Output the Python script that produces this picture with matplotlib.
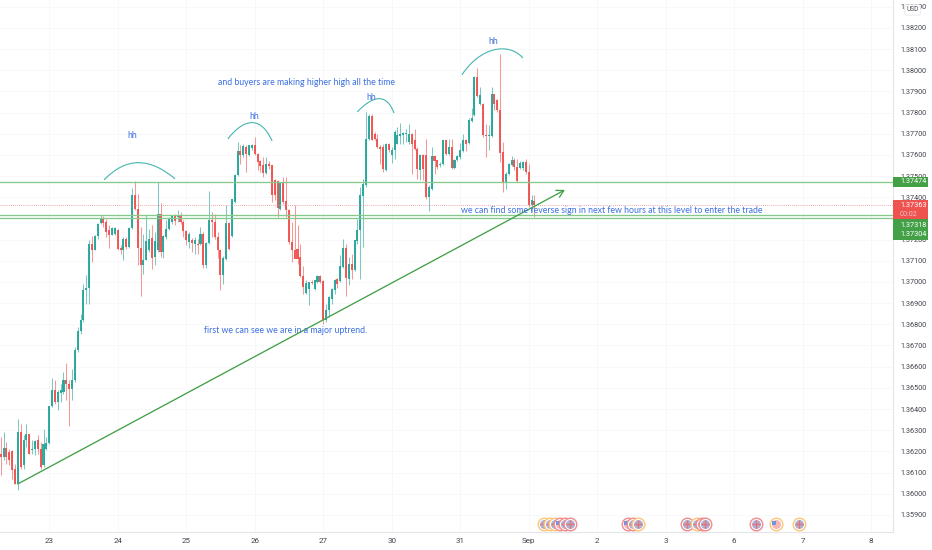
import matplotlib
matplotlib.use("Agg")
import matplotlib.pyplot as plt
from matplotlib.patches import Rectangle, PathPatch
from matplotlib.path import Path
from matplotlib.transforms import blended_transform_factory
import numpy as np

opens = [1.36189,1.36173,1.36216,1.36197,1.36200,1.36118,1.36047,1.36292,1.36134,1.36252,
1.36284,1.36208,1.36213,1.36252,1.36213,1.36134,1.36213,1.36240,1.36413,1.36488,
1.36433,1.36475,1.36480,1.36535,1.36520,1.36496,1.36535,1.36677,1.36767,1.36819,
1.36964,1.36972,1.37178,1.37153,1.37216,1.37279,1.37299,1.37283,1.37244,1.37224,
1.37225,1.37247,1.37162,1.37150,1.37205,1.37165,1.37257,1.37410,1.37347,1.37162,
1.37079,1.37105,1.37150,1.37208,1.37118,1.37150,1.37323,1.37142,1.37213,1.37252,
1.37283,1.37312,1.37307,1.37315,1.37283,1.37239,1.37189,1.37200,1.37178,1.37181,
1.37178,1.37228,1.37079,1.37184,1.37294,1.37283,1.37213,1.37150,1.37035,1.37110,
1.37279,1.37216,1.37378,1.37504,1.37617,1.37598,1.37638,1.37598,1.37635,1.37646,
1.37606,1.37570,1.37551,1.37515,1.37559,1.37551,1.37480,1.37477,1.37346,1.37468,
1.37383,1.37339,1.37189,1.37153,1.37157,1.37118,1.37027,1.36948,1.36968,1.37000,
1.36968,1.37000,1.37027,1.37005,1.36822,1.36866,1.36921,1.36964,1.37016,1.37005,
1.37071,1.37162,1.37016,1.37087,1.37055,1.37194,1.37244,1.37406,1.37457,1.37677,
1.37783,1.37701,1.37677,1.37638,1.37638,1.37531,1.37654,1.37598,1.37625,1.37654,
1.37688,1.37693,1.37701,1.37662,1.37701,1.37669,1.37630,1.37531,1.37598,1.37598,
1.37402,1.37441,1.37594,1.37575,1.37551,1.37559,1.37669,1.37603,1.37638,1.37540,
1.37575,1.37591,1.37619,1.37669,1.37657,1.37761,1.37787,1.37969,1.37839,1.37843,
1.37693,1.37688,1.37688,1.37887,1.37858,1.37811,1.37614,1.37468,1.37509,1.37551,
1.37578,1.37543,1.37540,1.37540,1.37567,1.37520,1.37362,1.37383]
highs = [1.36268,1.36292,1.36244,1.36213,1.36205,1.36142,1.36355,1.36331,1.36276,1.36331,
1.36284,1.36252,1.36252,1.36276,1.36244,1.36307,1.36268,1.36413,1.36548,1.36535,
1.36488,1.36520,1.36575,1.36617,1.36539,1.36591,1.36693,1.36788,1.36851,1.36992,
1.37032,1.37200,1.37216,1.37221,1.37279,1.37318,1.37310,1.37299,1.37268,1.37260,
1.37260,1.37252,1.37173,1.37213,1.37213,1.37260,1.37446,1.37476,1.37417,1.37260,
1.37228,1.37315,1.37252,1.37268,1.37236,1.37472,1.37375,1.37221,1.37291,1.37307,
1.37315,1.37323,1.37342,1.37331,1.37291,1.37244,1.37236,1.37208,1.37213,1.37205,
1.37260,1.37236,1.37189,1.37430,1.37331,1.37323,1.37236,1.37157,1.37121,1.37362,
1.37283,1.37394,1.37512,1.37661,1.37646,1.37650,1.37646,1.37649,1.37650,1.37683,
1.37609,1.37575,1.37590,1.37590,1.37570,1.37554,1.37488,1.37484,1.37472,1.37496,
1.37496,1.37346,1.37283,1.37362,1.37268,1.37181,1.37074,1.37008,1.37000,1.37008,
1.37011,1.37031,1.37031,1.37008,1.36897,1.36932,1.36973,1.37016,1.37019,1.37126,
1.37205,1.37181,1.37118,1.37134,1.37200,1.37299,1.37449,1.37488,1.37803,1.37795,
1.37792,1.37709,1.37701,1.37646,1.37654,1.37657,1.37657,1.37638,1.37717,1.37732,
1.37751,1.37709,1.37725,1.37748,1.37704,1.37725,1.37638,1.37606,1.37606,1.37677,
1.37457,1.37638,1.37598,1.37578,1.37567,1.37677,1.37672,1.37677,1.37677,1.37583,
1.37598,1.37657,1.37701,1.37677,1.37776,1.37824,1.37972,1.38013,1.37921,1.37846,
1.37745,1.37740,1.37921,1.37890,1.37866,1.38079,1.37661,1.37520,1.37562,1.37594,
1.37587,1.37583,1.37572,1.37572,1.37583,1.37559,1.37409,1.37409]
lows = [1.36087,1.36158,1.36142,1.36134,1.36071,1.36047,1.36019,1.36118,1.36118,1.36221,
1.36189,1.36189,1.36181,1.36189,1.36118,1.36126,1.36205,1.36236,1.36410,1.36425,
1.36397,1.36433,1.36472,1.36441,1.36318,1.36441,1.36528,1.36669,1.36756,1.36811,
1.36898,1.36898,1.37094,1.37150,1.37205,1.37276,1.37260,1.37213,1.37161,1.37220,
1.37220,1.37150,1.37131,1.37105,1.37157,1.37162,1.37252,1.37339,1.37079,1.36932,
1.37036,1.37102,1.37142,1.37060,1.37079,1.37142,1.37118,1.37115,1.37205,1.37244,
1.37276,1.37268,1.37283,1.37276,1.37213,1.37173,1.37162,1.37142,1.37131,1.37134,
1.37173,1.37068,1.37066,1.37181,1.37213,1.37205,1.37115,1.36964,1.36992,1.37105,
1.37153,1.37213,1.37375,1.37499,1.37559,1.37591,1.37520,1.37594,1.37622,1.37598,
1.37528,1.37520,1.37496,1.37512,1.37535,1.37378,1.37386,1.37307,1.37339,1.37370,
1.37307,1.37181,1.37094,1.37150,1.37087,1.37024,1.36945,1.36945,1.36890,1.36989,
1.36964,1.36997,1.36997,1.36803,1.36811,1.36835,1.36897,1.36945,1.36973,1.37000,
1.37068,1.36932,1.36984,1.37016,1.37052,1.37181,1.37016,1.37165,1.37449,1.37669,
1.37669,1.37669,1.37635,1.37559,1.37520,1.37524,1.37614,1.37562,1.37583,1.37650,
1.37654,1.37654,1.37662,1.37654,1.37509,1.37622,1.37488,1.37480,1.37480,1.37394,
1.37335,1.37436,1.37512,1.37535,1.37543,1.37551,1.37598,1.37598,1.37535,1.37535,
1.37572,1.37583,1.37614,1.37619,1.37654,1.37756,1.37783,1.37874,1.37835,1.37685,
1.37591,1.37622,1.37685,1.37811,1.37803,1.37567,1.37425,1.37441,1.37504,1.37546,
1.37528,1.37472,1.37535,1.37528,1.37512,1.37354,1.37331,1.37307]
closes = [1.36173,1.36216,1.36173,1.36158,1.36110,1.36047,1.36292,1.36126,1.36255,1.36284,
1.36189,1.36213,1.36248,1.36213,1.36126,1.36236,1.36240,1.36413,1.36488,1.36433,
1.36480,1.36488,1.36535,1.36520,1.36493,1.36535,1.36677,1.36767,1.36819,1.36964,
1.36972,1.37178,1.37153,1.37216,1.37276,1.37299,1.37280,1.37236,1.37220,1.37257,
1.37257,1.37157,1.37150,1.37205,1.37165,1.37257,1.37410,1.37347,1.37162,1.37079,
1.37105,1.37194,1.37205,1.37115,1.37194,1.37323,1.37142,1.37216,1.37252,1.37304,
1.37310,1.37288,1.37315,1.37283,1.37239,1.37197,1.37228,1.37184,1.37200,1.37173,
1.37228,1.37079,1.37184,1.37294,1.37283,1.37213,1.37150,1.37035,1.37115,1.37279,
1.37157,1.37394,1.37504,1.37617,1.37598,1.37642,1.37603,1.37646,1.37646,1.37606,
1.37567,1.37547,1.37515,1.37559,1.37547,1.37410,1.37410,1.37351,1.37468,1.37378,
1.37339,1.37189,1.37153,1.37110,1.37110,1.37027,1.36976,1.36995,1.37000,1.36997,
1.37008,1.37027,1.37000,1.36822,1.36869,1.36929,1.36968,1.37011,1.36992,1.37074,
1.37162,1.37020,1.37087,1.37055,1.37197,1.37244,1.37410,1.37461,1.37677,1.37783,
1.37672,1.37677,1.37638,1.37630,1.37535,1.37654,1.37625,1.37625,1.37709,1.37693,
1.37701,1.37704,1.37704,1.37701,1.37654,1.37630,1.37535,1.37598,1.37535,1.37402,
1.37449,1.37594,1.37572,1.37543,1.37559,1.37672,1.37603,1.37638,1.37540,1.37578,
1.37594,1.37622,1.37669,1.37654,1.37764,1.37776,1.37969,1.37877,1.37882,1.37693,
1.37688,1.37693,1.37887,1.37843,1.37811,1.37609,1.37468,1.37512,1.37556,1.37578,
1.37543,1.37477,1.37562,1.37567,1.37520,1.37362,1.37386,1.37363]

day_labels = ["23","24","25","26","27","30","31","Sep","2","3","6","7","8"]
day_index = [17,41,65,89,113,137,161,185,209,233,257,281,305]
price_ticks = [1.359,1.360,1.361,1.362,1.363,1.364,1.365,1.366,1.367,1.368,1.369,1.370,
               1.371,1.372,1.373,1.374,1.375,1.376,1.377,1.378,1.379,1.380,1.381,1.382,1.383]

level_top = 1.37474
level_mid_a = 1.37318
level_mid_b = 1.37304
last_price = 1.37363

trend_start = (6, 1.36046)
trend_end = (197.7, 1.37435)

arcs = [
    [(36.2,1.37482),(44,1.37590),(52,1.37590),(61.1,1.37487)],
    [(79.6,1.37676),(85,1.37770),(91,1.37790),(95.1,1.37666)],
    [(124.9,1.37803),(130,1.37875),(135,1.37900),(137.8,1.37798)],
    [(161.6,1.37978),(168,1.38110),(178,1.38135),(183,1.38058)],
]

notes = [
    ("hh", 46.0, 1.37690),
    ("hh", 88.8, 1.37780),
    ("hh", 129.8, 1.37870),
    ("hh", 172.5, 1.38135),
    ("and buyers are making higher high all the time", 76.1, 1.37940),
    ("first we can see we are in a major uptrend.", 71.2, 1.36769),
    ("we can find some reverse sign in next few hours at this level to enter the trade", 161.3, 1.37336),
]

event_x = [190.4,192.5,194.2,196,197.7,199.5,219.8,221.5,223.3,240.5,244,245.8,246.8,264.6,271.7,279.7]
event_kind = ["uk","uk","uk","us","uk","uk","us","uk","uk","uk","uk","uk","uk","uk","us","uk"]
event_ring = ["o","o","o","r","r","r","r","r","o","r","o","r","r","r","o","o"]
event_price = 1.35857

W, H = 932, 550
fig = plt.figure(figsize=(W/100, H/100), dpi=100, facecolor="white")
plt.rcParams["font.family"] = ["Roboto", "DejaVu Sans"]
ax = fig.add_axes([0, 18/H, 893/W, 532/H])
ax.set_xlim(-0.245, 312.65)
ax.set_ylim(1.35819, 1.38332)
ax.set_facecolor("white")

for s in ["top", "left"]:
    ax.spines[s].set_visible(False)
for s in ["right", "bottom"]:
    ax.spines[s].set_color("#e3e5ea")
    ax.spines[s].set_linewidth(0.8)

ax.yaxis.tick_right()
ax.set_yticks(price_ticks)
ax.set_yticklabels([f"{p:.5f}" for p in price_ticks], fontsize=5.2, color="#3f434c")
ax.set_xticks(day_index)
ax.set_xticklabels(day_labels, fontsize=5.8, color="#3f434c")
ax.tick_params(axis="y", length=0, pad=5)
ax.tick_params(axis="x", length=0, pad=4)
ax.grid(True, color="#f7f8fa", lw=0.7)
ax.set_axisbelow(True)

GREEN, RED = "#26a69a", "#ef5350"
x = np.arange(len(opens))
o, h, l, c = map(np.array, (opens, highs, lows, closes))
cols = [GREEN if b >= a else RED for a, b in zip(o, c)]
ax.vlines(x, l, h, colors=cols, lw=0.75, alpha=0.6, zorder=3)
ax.bar(x, np.maximum(np.abs(c-o), 0.00003), bottom=np.minimum(o, c), width=0.72,
       color=cols, lw=0, zorder=4, alpha=0.95)

LEVEL = "#86c98a"
ax.axhline(level_top, color=LEVEL, lw=0.95, zorder=5)
ax.axhline(level_mid_a, color=LEVEL, lw=0.95, zorder=5)
ax.axhline(level_mid_b, color=LEVEL, lw=0.95, zorder=5)
ax.axhline(last_price, color="#f08c8c", lw=0.6, ls=(0, (1, 1.5)), zorder=5)

ax.annotate("", xy=trend_end, xytext=trend_start, zorder=6,
            arrowprops=dict(arrowstyle="->,head_length=0.5,head_width=0.28", color="#43a047",
                            lw=0.95, shrinkA=0, shrinkB=0))

for arc in arcs:
    ax.add_patch(PathPatch(Path(arc, [Path.MOVETO, Path.CURVE4, Path.CURVE4, Path.CURVE4]),
                           fill=False, ec="#45b5b0", lw=0.8, zorder=6))

for txt, nx, ny in notes:
    ax.text(nx, ny, txt, color="#3b6fe0", fontsize=6.3, family="Lato", ha="center" if txt == "hh" else "left",
            va="center", zorder=7)

# event icons
ring_col = {"o": "#fbc777", "r": "#f28b8b"}
for ex, kind, ring in zip(event_x, event_kind, event_ring):
    ax.scatter([ex], [event_price], s=82, c="white", edgecolors=ring_col[ring], linewidths=1.0, zorder=8, clip_on=False)
    if kind == "uk":
        ax.scatter([ex], [event_price], s=42, c="#aab0d8", linewidths=0, zorder=8)
        ax.scatter([ex], [event_price], s=30, marker="+", c="#e57373", linewidths=1.0, zorder=8)
    else:
        ax.scatter([ex], [event_price], s=42, c="#f7b5b5", linewidths=0, zorder=8)
        ax.scatter([ex-0.6], [event_price+0.00006], s=12, c="#6f95e0", marker="s", linewidths=0, zorder=8)

# right-hand price labels
tr = blended_transform_factory(fig.transFigure, ax.transData)
bx, bw = 893/W, 35/W
tx = 900/W
def box(y0, y1, col):
    ax.add_patch(Rectangle((bx, y0), bw, y1-y0, transform=tr, color=col, lw=0, clip_on=False, zorder=9))
def lab(y, s, col="white"):
    ax.text(tx, y, s, transform=tr, fontsize=5.2, color=col, va="center", ha="left", clip_on=False, zorder=10)
box(1.37474-0.00024, 1.37474+0.00024, "#43a047")
lab(1.37474, "1.37474")
box(1.37298, 1.37388, "#ef5350")
lab(1.37361, "1.37363")
lab(1.37321, "00:02", "#f7c4c4")
box(1.37199, 1.37298, "#43a047")
lab(1.37269, "1.37318")
lab(1.37222, "1.37304")

# USD badge
ax.text(912.5/W, 1.38332-0.00047, "USD", transform=tr, fontsize=4.8, color="#4a4e58", ha="center", va="center",
        zorder=10, clip_on=False,
        bbox=dict(boxstyle="round,pad=0.25", fc="white", ec="#e3e5ea", lw=0.5))

fig.savefig("out.png", dpi=100, facecolor="white")
